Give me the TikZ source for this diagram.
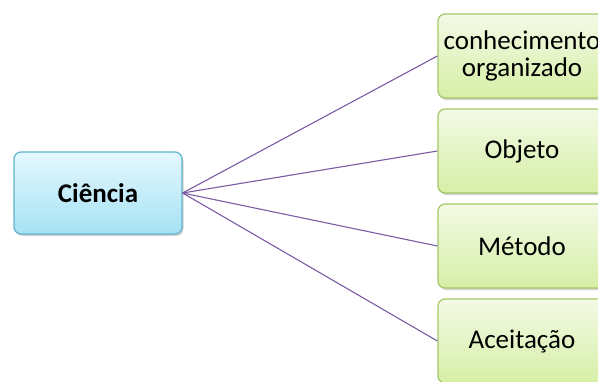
\documentclass[tikz,border=0pt]{standalone}
\usepackage{fontspec}
\setmainfont{Carlito}
\usepackage{xcolor}
\usepackage{tikz}
\usetikzlibrary{positioning, shadows, calc}

\definecolor{linha}{HTML}{7B5BA3}
\definecolor{azulborda}{HTML}{5FB3CC}
\definecolor{azulcima}{HTML}{E4F8FE}
\definecolor{azulbaixo}{HTML}{A6E2F4}
\definecolor{verdeborda}{HTML}{A3C866}
\definecolor{verdecima}{HTML}{F3FAE6}
\definecolor{verdebaixo}{HTML}{D6EFA6}

\begin{document}
\begin{tikzpicture}[x=1pt, y=-1pt,
	raiz/.style={draw=azulborda, line width=1.2pt, rounded corners=7pt,
		top color=azulcima, bottom color=azulbaixo,
		minimum width=168pt, minimum height=82pt,
		drop shadow={shadow xshift=1.5pt, shadow yshift=-2pt, opacity=.35},
		font=\bfseries\fontsize{27}{30}\selectfont, align=center},
	folha/.style={draw=verdeborda, line width=1.2pt, rounded corners=7pt,
		top color=verdecima, bottom color=verdebaixo,
		minimum width=168pt, minimum height=84pt,
		drop shadow={shadow xshift=1.5pt, shadow yshift=-2pt, opacity=.35},
		font=\fontsize{27}{27}\selectfont, align=center, inner sep=1pt},
	ramo/.style={draw=linha, line width=1.1pt}]
			\useasboundingbox (0,0) rectangle (598,381);
			\clip (0,0) rectangle (598,381);
			\node[raiz] (c) at (98,193) {Ciência};
			\node[folha] (f1) at (522,56) {conhecimento\\organizado};
			\node[folha] (f2) at (522,151) {Objeto};
			\node[folha] (f3) at (522,246) {Método};
			\node[folha] (f4) at (522,341) {Aceitação};
			\draw[ramo] (c.east) -- (f1.west);
			\draw[ramo] (c.east) -- (f2.west);
			\draw[ramo] (c.east) -- (f3.west);
			\draw[ramo] (c.east) -- (f4.west);
		\end{tikzpicture}
\end{document}
